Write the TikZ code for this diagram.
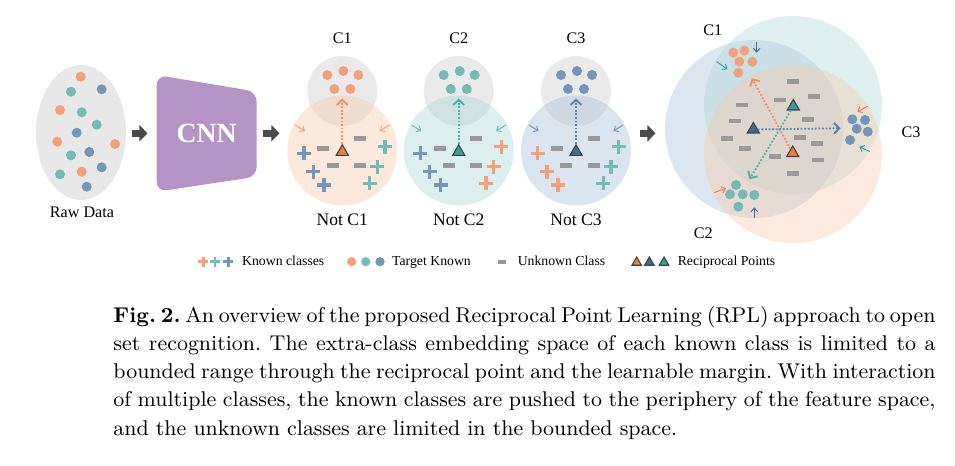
\documentclass[tikz,border=0pt]{standalone}
\usepackage{fontspec}
\usetikzlibrary{arrows.meta,calc,positioning,shapes.geometric}
\newfontfamily\figfont{Liberation Serif}
\newlength\pxu
\setlength\pxu{0.4216pt}
\definecolor{kOrange}{HTML}{F5A078}
\definecolor{kTeal}{HTML}{72BCB4}
\definecolor{kBlue}{HTML}{7596B6}
\definecolor{rOrange}{HTML}{F27B47}
\definecolor{rTeal}{HTML}{3A9E98}
\definecolor{rBlue}{HTML}{3E6C99}
\definecolor{zOrange}{HTML}{FAC8AC}
\definecolor{zTeal}{HTML}{ACD9D9}
\definecolor{zBlue}{HTML}{A7C0D9}
\definecolor{zGray}{HTML}{CCCCCC}
\definecolor{cnnPurple}{HTML}{B594C5}
\definecolor{arrowGray}{HTML}{4A4A4A}
\definecolor{barGray}{HTML}{999999}
\tikzset{
    raw cloud/.style={ellipse, inner sep=0pt, fill=black!9,
        minimum width=90*\pxu, minimum height=135*\pxu},
    cnn label/.style={inner sep=0pt, minimum width=100*\pxu, minimum height=117*\pxu,
        text=white, font=\figfont\bfseries\fontsize{11.7}{14}\selectfont},
    known zone/.style={circle, inner sep=0pt, minimum size=70*\pxu, fill opacity=0.42},
    feature zone/.style={circle, inner sep=0pt, minimum size=178*\pxu, fill opacity=0.4},
    cluster/.style={circle, inner sep=0pt, minimum size=36*\pxu},
    reciprocal/.style={regular polygon, regular polygon sides=3, inner sep=0pt,
        minimum size=14*\pxu, draw=black!75, line width=0.45pt},
    legend tri/.style={reciprocal, minimum size=11*\pxu},
    class label/.style={anchor=base, inner sep=0pt, font=\figfont\fontsize{6.8}{8}\selectfont},
    not label/.style={anchor=base, inner sep=0pt, font=\figfont\fontsize{7.4}{9}\selectfont},
    legend text/.style={anchor=base west, inner sep=0pt, font=\figfont\fontsize{5.8}{7}\selectfont},
    flow arrow/.style={-{Triangle[length=3.4pt,width=6.8pt]}, line width=2.9pt, arrowGray},
    recip arrow/.style={-{Straight Barb[length=2.2pt,width=4.6pt,line width=0.8pt]},
        line width=0.75pt, dash pattern=on 0.75pt off 0.75pt},
    pull arrow/.style={-{Straight Barb[length=1.6pt,width=2.8pt]}, line width=0.4pt},
    pics/known plus/.style={code={
        \draw[#1, line width=3.4*\pxu] (-7,0) -- (7,0) (0,-7) -- (0,7);}},
    pics/legend plus/.style={code={
        \draw[#1, line width=2.6*\pxu] (-5,0) -- (5,0) (0,-5) -- (0,5);}},
    pics/unknown bar/.style={code={
        \fill[barGray] (-6,-2.4) rectangle (6,2.4);}},
    pics/target five/.style={code={
        \foreach \dx/\dy in {-15/-5, 1/-9, 16/-5, -8/9, 8/9}
            \fill[#1] (\dx,\dy) circle (5);}}
}

\begin{document}
\begin{tikzpicture}[x=0.4216pt,y=-0.4216pt]
    \useasboundingbox (0,0) rectangle (955,465);

    % raw data
    \node[raw cloud] (raw) at (81,132.5) {};
    \foreach \px/\py/\c in {80.7/76.7/kOrange, 71/91.7/kTeal, 101.7/89.3/kBlue,
        60/110/kOrange, 81.7/112.3/kTeal, 96.7/124.7/kTeal, 76.7/132.7/kBlue,
        57.3/141.7/kOrange, 115/144/kOrange, 89.3/152/kBlue, 71/155.3/kTeal,
        81.7/171.7/kOrange, 101.7/167.3/kBlue, 60/174.3/kTeal, 86.7/186.7/kBlue}
        \fill[\c] (\px,\py) circle (5);
    \node[class label] at (82,217.7) {Raw Data};

    % CNN
    \fill[cnnPurple, rounded corners=4.2pt] (156.7,75) -- (256.7,91.7) -- (256.7,176.7)
        -- (156.7,191.7) -- cycle;
    \node[cnn label] (cnn) at (206.7,133.3) {CNN};

    % one panel per known class
    \foreach \cx/\n/\zc/\kc/\rc/\pl/\pr in {342.3/1/zOrange/kOrange/rOrange/kBlue/kTeal,
        458.7/2/zTeal/kTeal/rTeal/kBlue/kOrange, 576/3/zBlue/kBlue/rBlue/kOrange/kTeal}{
        \node[known zone, fill=zGray] (c\n) at (\cx,91) {};
        \node[known zone, fill=\zc, minimum size=110*\pxu] (n\n) at (\cx,150.5) {};
        \pic at (\cx,80) {target five=\kc};
        \node[cluster] (k\n) at (\cx,80) {};
        \node[class label] at (\cx,44) {C\n};
        \node[not label] at (\cx,225) {Not C\n};
        \foreach \dx/\dy in {-38.5/2.8, -29/21.2, -18.2/34.5}
            \pic at ({\cx+\dx},{150.5+\dy}) {known plus=\pl};
        \foreach \dx/\dy in {42.5/-3.8, 35/16.2, 27.2/32.8}
            \pic at ({\cx+\dx},{150.5+\dy}) {known plus=\pr};
        \foreach \dx/\dy in {-19/-2.2, 17.5/-12.2, -9.6/15.2, 17.5/15.2}
            \pic at ({\cx+\dx},{150.5+\dy}) {unknown bar};
        \node[reciprocal, fill=\rc] (t\n) at (\cx,151.8) {};
        \draw[recip arrow, \rc!85] (t\n) -- (k\n);
        \draw[pull arrow, \kc] ({\cx-47.3},125) -- ++(10,6);
        \draw[pull arrow, \kc] ({\cx+47.3},125) -- ++(-10,6);
    }

    % feature space with all classes
    \node[feature zone, fill=zBlue] (fb) at (754,129) {};
    \node[feature zone, fill=zTeal] (ft) at (793,105) {};
    \node[feature zone, fill=zOrange] (fo) at (793,154) {};
    \foreach \bx/\by in {792.7/81.7, 814/96.7, 780/100, 741.7/105, 808.3/119.3, 735/121,
        800/137.7, 726.7/138.3, 816.7/143.3, 745/148.3, 775/156.7, 817.7/160, 793.3/173.3}
        \pic at (\bx,\by) {unknown bar};
    \foreach \px/\py in {733.3/52.7, 744.3/50.7, 739.3/61.7, 752.3/61.7, 738.3/72.7}
        \fill[kOrange] (\px,\py) circle (5);
    \foreach \px/\py in {852.3/119.3, 865/120, 856.7/128.7, 867.7/131.7, 850/140}
        \fill[kBlue] (\px,\py) circle (5);
    \foreach \px/\py in {736/185, 730/194.3, 742.7/194.3, 754.3/195, 738.3/206.7}
        \fill[kTeal] (\px,\py) circle (5);
    \node[cluster] (g1) at (743,62) {};
    \node[cluster] (g3) at (859,128) {};
    \node[cluster] (g2) at (740,195) {};
    \node[reciprocal, fill=rBlue] (tb) at (753.3,129.5) {};
    \node[reciprocal, fill=rTeal] (tt) at (793.3,106.5) {};
    \node[reciprocal, fill=rOrange] (to) at (792.7,153) {};
    \draw[recip arrow, rOrange!85] (to) -- (g1);
    \draw[recip arrow, rTeal!85] (tt) -- (g2);
    \draw[recip arrow, rBlue!85] (tb) -- (g3);
    \draw[pull arrow, rBlue] (756.7,41.7) -- (756.7,52.7);
    \draw[pull arrow, rTeal] (716.7,61.7) -- (727.3,69.3);
    \draw[pull arrow, rOrange] (868.3,106) -- (857.3,111.7);
    \draw[pull arrow, rTeal] (870,151.7) -- (859.3,146.7);
    \draw[pull arrow, rOrange] (714,192.7) -- (726,188.3);
    \draw[pull arrow, rBlue] (754.3,218.3) -- (754.3,207.3);
    \node[class label] at (712.7,36) {C1};
    \node[class label] at (911,137.3) {C3};
    \node[class label] at (703.3,238.3) {C2};

    % flow between the stages
    \draw[flow arrow, shorten <=2.5pt, shorten >=3.7pt] (cnn.west -| raw.east) -- (cnn.west);
    \draw[flow arrow, shorten <=2.6pt, shorten >=3.1pt] (cnn.east) -- (cnn.east -| n1.west);
    \draw[flow arrow, shorten <=3.4pt, shorten >=3.8pt] (cnn.east -| n3.east) -- (cnn.east -| fb.west);

    % legend
    \pic at (203.3,261.7) {legend plus=kOrange};
    \pic at (215,261.7) {legend plus=kTeal};
    \pic at (228.3,261.7) {legend plus=kBlue};
    \node[legend text] (lk) at (241.7,265.7) {Known classes};
    \fill[kOrange] (351.7,261.7) circle (4.6);
    \fill[kTeal] (365.7,261.7) circle (4.6);
    \fill[kBlue] (380,261.7) circle (4.6);
    \node[legend text] (lt) at (391.7,265.7) {Target Known};
    \fill[barGray] (497.7,260) rectangle (505.7,263.5);
    \node[legend text] (lu) at (517.3,265.7) {Unknown Class};
    \node[legend tri, fill=rOrange] (lr1) at (636.7,262.5) {};
    \node[legend tri, fill=rBlue] (lr2) at (649.3,262.5) {};
    \node[legend tri, fill=rTeal] (lr3) at (664,262.5) {};
    \node[legend text] (lr) at (677.3,265.7) {Reciprocal Points};

    % caption
    \node[anchor=base west, inner sep=0pt, text width=346.6pt, align=justify,
        font=\fontsize{9}{11.9}\selectfont] (caption) at (113,322.3)
        {\frenchspacing\spaceskip=0.333em plus 0.2em minus 0.17em
        \textbf{Fig.~2.} An overview of the proposed Reciprocal Point Learning (RPL) approach to open\linebreak
        set recognition. The extra-class embedding space of each known class is limited to a\linebreak
        bounded range through the reciprocal point and the learnable margin. With interaction\linebreak
        of multiple classes, the known classes are pushed to the periphery of the feature space,\linebreak
        and the unknown classes are limited in the bounded space.\par};
\end{tikzpicture}
\end{document}
